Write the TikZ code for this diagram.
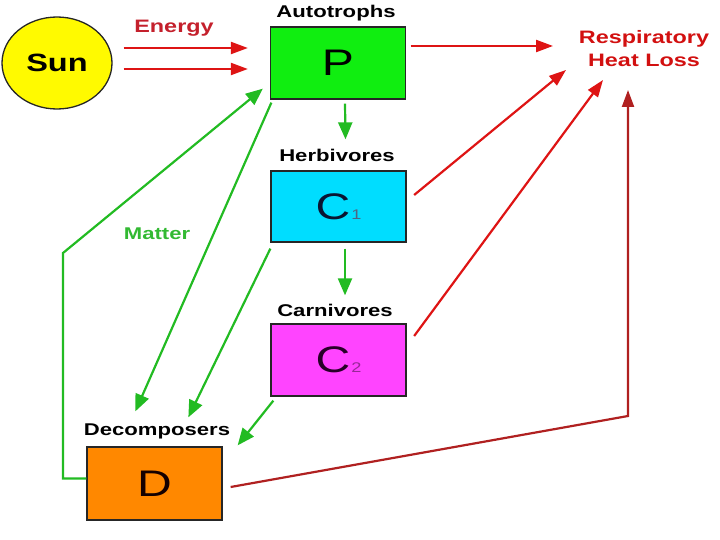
\documentclass[tikz,border=0pt]{standalone}
\usepackage{fontspec}
\setmainfont{Liberation Sans}
\newfontfamily\wf[FakeStretch=1.3]{Liberation Sans}
\usetikzlibrary{arrows.meta,shapes.geometric}
\definecolor{rd}{RGB}{222,20,20}
\definecolor{drd}{RGB}{176,32,32}
\definecolor{etxt}{RGB}{196,32,44}
\definecolor{rtxt}{RGB}{210,16,16}
\definecolor{gr}{RGB}{34,187,34}
\definecolor{gtxt}{RGB}{50,185,50}
\definecolor{pfill}{RGB}{16,238,16}
\definecolor{c1fill}{RGB}{0,221,255}
\definecolor{c2fill}{RGB}{255,68,255}
\definecolor{dfill}{RGB}{255,136,0}
\definecolor{sunfill}{RGB}{255,250,0}
\tikzset{
  box/.style={draw=black!85, line width=1.3pt, minimum width=135pt, minimum height=72pt, inner sep=0pt},
  lbl/.style={font=\wf\bfseries\fontsize{17}{20}\selectfont, text=black, inner sep=0pt},
  garrow/.style={draw=gr, line width=2.2pt, -{Triangle[length=17pt,width=14pt]}},
  rarrow/.style={draw=rd, line width=2.2pt, -{Triangle[length=17pt,width=12pt]}},
  big/.style={font=\wf\fontsize{37}{40}\selectfont},
}
\begin{document}
\begin{tikzpicture}[x=1pt,y=-1pt]
\useasboundingbox (0,0) rectangle (720,540);
% nodes
\node[ellipse, draw=black!85, line width=1.3pt, fill=sunfill, minimum width=110pt, minimum height=92pt,
      font=\wf\bfseries\fontsize{25}{28}\selectfont] (Sun) at (57,63) {Sun};
\node[box, fill=pfill, big] (P) at (338,63) {P};
\node[box, fill=c1fill, minimum height=71pt, big] (C1) at (338.5,206.5)
  {\textcolor[RGB]{10,20,50}{C}\kern1pt{\wf\fontsize{14}{14}\selectfont\textcolor[RGB]{80,100,130}{1}}};
\node[box, fill=c2fill, big] (C2) at (338.5,360)
  {\textcolor[RGB]{40,0,40}{C}\kern1pt{\wf\fontsize{14}{14}\selectfont\textcolor[RGB]{150,40,150}{2}}};
\node[box, fill=dfill, minimum height=73pt, big] (D) at (154.5,483.5) {\textcolor[RGB]{20,0,0}{D}};
% labels
\node[lbl] (lA) at (336,13) {Autotrophs};
\node[lbl] (lH) at (337,155) {Herbivores};
\node[lbl] (lC) at (335,310) {Carnivores};
\node[lbl] (lD) at (157,431) {Decomposers};
\node[lbl, text=etxt, font=\wf\bfseries\fontsize{18}{20}\selectfont] (lE) at (174,28) {Energy};
\node[lbl, text=gtxt] (lM) at (157,234) {Matter};
\node[lbl, text=rtxt, font=\wf\bfseries\fontsize{18}{23}\selectfont, align=center] (Resp) at (644,49) {Respiratory\\Heat Loss};
% free ends
\coordinate (r1) at (553,46);
\coordinate (r2) at (566,70);
\coordinate (r3) at (603,80);
\coordinate (r4) at (628,90);
\coordinate (rbend) at (628,416);
\coordinate (mbend) at (63,253);
% energy
\draw[rarrow] ([xshift=11pt,yshift=15pt]Sun.east) -- ([xshift=-22pt,yshift=15pt]P.west);
\draw[rarrow] ([xshift=11pt,yshift=-6pt]Sun.east) -- ([xshift=-22pt,yshift=-6pt]P.west);
% food chain
\draw[garrow] ([xshift=7pt,yshift=-4pt]P.south) -- ([xshift=7pt,yshift=31pt]C1.north);
\draw[garrow] ([xshift=6.5pt,yshift=-6pt]C1.south) -- ([xshift=6.5pt,yshift=28pt]C2.north);
% matter recycling
\draw[garrow] ([yshift=5pt]D.west) -| (mbend) -- ([xshift=-7pt,yshift=11pt]P.south west);
\draw[garrow] ([xshift=1.5pt,yshift=-3pt]P.south west) -- ([xshift=49pt,yshift=35pt]D.north west);
\draw[garrow] ([yshift=-6pt]C1.south west) -- ([xshift=102pt,yshift=29pt]D.north west);
\draw[garrow] ([xshift=3pt,yshift=-4pt]C2.south west) -- ([xshift=15pt,yshift=1pt]D.north east);
% respiratory heat loss
\draw[rarrow] ([xshift=4.5pt,yshift=17pt]P.east) -- (r1);
\draw[rarrow] ([xshift=7.5pt,yshift=11.5pt]C1.east) -- (r2);
\draw[rarrow] ([xshift=7.5pt,yshift=24pt]C2.east) -- (r3);
\draw[rarrow, draw=drd] ([xshift=8pt,yshift=-3.5pt]D.east) -- (rbend) -- (r4);
\end{tikzpicture}
\end{document}
